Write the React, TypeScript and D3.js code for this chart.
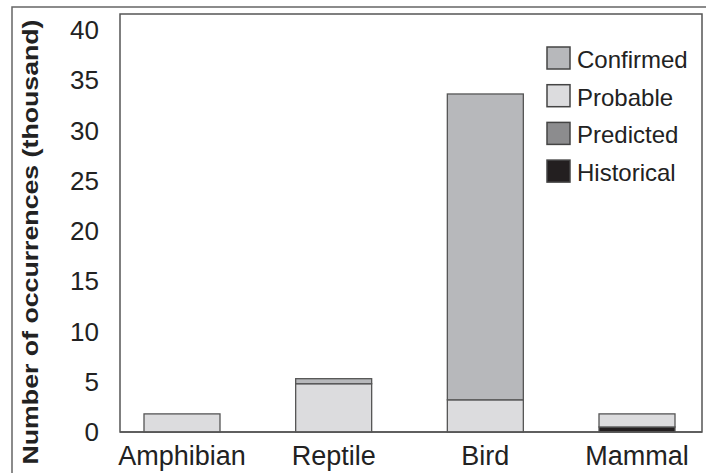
import React from "react";
import * as d3 from "d3";

const categories = ["Amphibian", "Reptile", "Bird", "Mammal"];
const historical = [0, 0, 0, 0.5];
const predicted = [0, 0, 0, 0];
const probable = [1.8, 4.8, 3.2, 1.3];
const confirmed = [0, 0.5, 30.4, 0];
const yTicks = [0, 5, 10, 15, 20, 25, 30, 35, 40];
const seriesNames = ["Historical", "Predicted", "Probable", "Confirmed"];
const legendOrder = ["Confirmed", "Probable", "Predicted", "Historical"];
const colors: Record<string, string> = {
  Confirmed: "#b7b8bb",
  Probable: "#dcdcde",
  Predicted: "#8c8c8e",
  Historical: "#231f20",
};

export default function App() {
  const W = 706, H = 473;
  const left = 120, right = 702, top = 14, bottom = 432;
  const y = d3.scaleLinear().domain([0, 41.55]).range([bottom, top]);
  const x = d3.scalePoint<string>().domain(categories).range([left + 62, right - 65]);
  const barW = 76;
  const rows = categories.map((c, i) => ({
    cat: c,
    Historical: historical[i],
    Predicted: predicted[i],
    Probable: probable[i],
    Confirmed: confirmed[i],
  }));
  const stack = d3.stack<any>().keys(seriesNames)(rows);
  const font = "'Liberation Sans', Arial, sans-serif";
  return (
    <svg width={W} height={H} style={{ position: "absolute", left: 0, top: 0 }} fontFamily={font}>
      <rect x={0} y={0} width={W} height={H} fill="#fff" />
      <rect x={12} y={7} width={720} height={500} fill="none" stroke="#666" strokeWidth={1.5} />
      <rect x={left} y={top} width={right - left} height={bottom - top} fill="none" stroke="#555" strokeWidth={1.5} />
      {stack.map((s) =>
        s.map((d, i) => {
          const h = y(d[0]) - y(d[1]);
          if (h <= 0.01) return null;
          return (
            <rect
              key={s.key + i}
              x={(x(categories[i]) as number) - barW / 2}
              y={y(d[1])}
              width={barW}
              height={h}
              fill={colors[s.key]}
              stroke="#555"
              strokeWidth={1.3}
            />
          );
        })
      )}
      <line x1={left} x2={right} y1={bottom} y2={bottom} stroke="#555" strokeWidth={1.5} />
      {yTicks.map((t) => (
        <text key={t} x={99} y={y(t)} dy="0.36em" textAnchor="end" fontSize={26} fill="#222">
          {t}
        </text>
      ))}
      {categories.map((c) => (
        <text key={c} x={x(c) as number} y={465} textAnchor="middle" fontSize={27} fill="#222">
          {c}
        </text>
      ))}
      <text
        transform={`translate(30,242) rotate(-90)`}
        textAnchor="middle"
        dy="0.35em"
        fontSize={22}
        fontWeight="bold"
        fill="#222"
        textLength={445}
        lengthAdjust="spacingAndGlyphs"
      >
        Number of occurrences (thousand)
      </text>
      {legendOrder.map((k, i) => (
        <g key={k} transform={`translate(547,${47 + i * 37.7})`}>
          <rect x={0} y={0} width={23} height={22} fill={colors[k]} stroke="#444" strokeWidth={1.5} />
          <text x={30} y={21} fontSize={24} fill="#222">
            {k}
          </text>
        </g>
      ))}
    </svg>
  );
}
